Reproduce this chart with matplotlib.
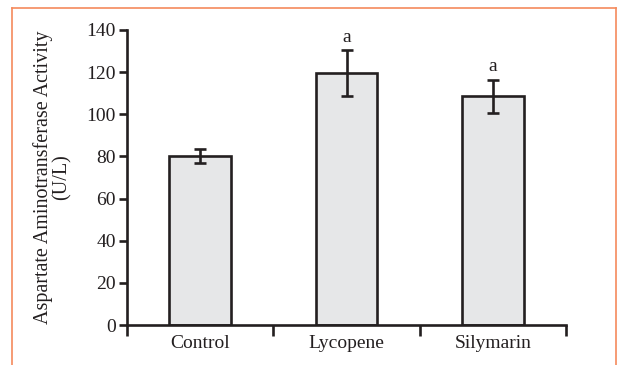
import matplotlib
matplotlib.use("Agg")
import matplotlib.pyplot as plt
from matplotlib.lines import Line2D
import numpy as np

categories = ["Control", "Lycopene", "Silymarin"]
values = [80, 119.5, 108.5]
errors = [3.3, 11, 8]
sig_labels = ["", "a", "a"]

plt.rcParams['font.family'] = ['Liberation Serif', 'DejaVu Serif']
text_color = "#231f20"
edge = "#231f20"
fs = 14
lw = 1.9

fig = plt.figure(figsize=(6.18, 3.65), dpi=100)
ax = fig.add_axes([127/618, 1-325/365, (566-127)/618, (325-30)/365])

x = np.arange(len(categories))
ax.bar(x, values, width=0.42, color="#e6e7e8", edgecolor=edge, linewidth=lw, zorder=2)
ax.errorbar(x, values, yerr=errors, fmt="none", ecolor=edge, elinewidth=lw,
            capsize=4, capthick=lw, zorder=3)
for xi, v, e, s in zip(x, values, errors, sig_labels):
    if s:
        ax.text(xi, v + e + 2.0, s, ha="center", va="bottom", fontsize=fs, color=text_color)

ax.set_xlim(-0.5, len(categories) - 0.5)
ax.set_ylim(0, 140)
ax.set_yticks(np.arange(0, 141, 20))
ax.set_xticks(x)
ax.set_xticklabels(categories)
ax.set_xticks(np.arange(-0.5, len(categories), 1.0), minor=True)
ax.tick_params(axis="x", which="major", length=0, pad=7, labelsize=fs, labelcolor=text_color)
ax.tick_params(axis="x", which="minor", length=8, width=lw, color=edge, direction="out")
ax.tick_params(axis="y", length=6, width=lw, color=edge, labelsize=fs, labelcolor=text_color, pad=2)

for sp in ["top", "right"]:
    ax.spines[sp].set_visible(False)
for sp in ["left", "bottom"]:
    ax.spines[sp].set_linewidth(lw)
    ax.spines[sp].set_color(edge)

fig.text(52.5/618, 1-177.5/365, "Aspartate Aminotransferase Activity\n(U/L)", rotation=90,
         ha="center", va="center", multialignment="center", fontsize=14.5,
         color=text_color, linespacing=1.0)

orange = "#f58a5c"
fx0, fx1 = 12/618, 616/618
fy_top = 1 - 7.5/365
fig.add_artist(Line2D([fx0, fx1], [fy_top, fy_top], color=orange, linewidth=1.2, transform=fig.transFigure))
fig.add_artist(Line2D([fx0, fx0], [0, fy_top], color=orange, linewidth=1.2, transform=fig.transFigure))
fig.add_artist(Line2D([fx1, fx1], [0, fy_top], color=orange, linewidth=1.2, transform=fig.transFigure))

fig.savefig("out.png", dpi=100)
